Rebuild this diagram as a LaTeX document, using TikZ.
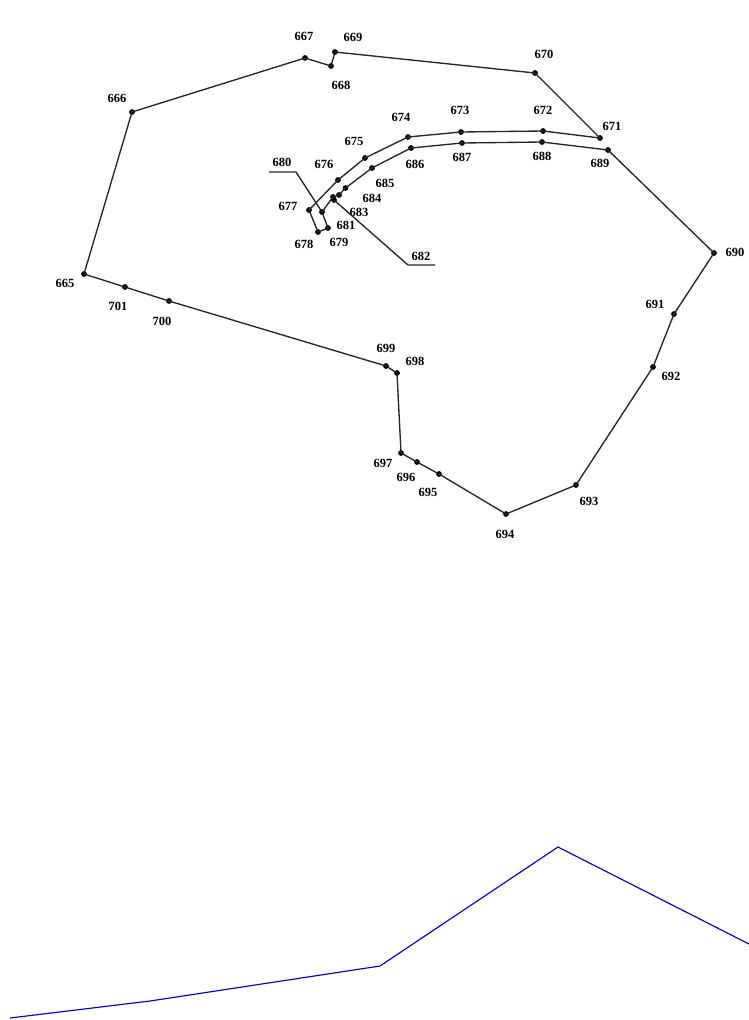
\documentclass[tikz,border=0pt]{standalone}
\usepackage{fontspec}
\setmainfont{Liberation Serif}
\tikzset{
  dotmark/.style={circle,fill=black,draw=none,inner sep=0pt,minimum size=5.8pt},
  numlabel/.style={inner sep=0pt,font=\fontsize{12.5}{14}\selectfont\bfseries,text=black},
  outline/.style={draw=black!85,line width=1.35pt,line join=round},
  bluetrace/.style={draw=blue!85!black,line width=1.15pt,line join=round}
}
\begin{document}
\begin{tikzpicture}[x=1pt,y=-1pt]
\useasboundingbox (0,0) rectangle (749,1020);
\foreach \n/\x/\y/\lx/\ly in {
 665/84/274/65/283, 666/132/112/117/98, 667/305/58/304/36, 668/331/66/341/85,
 669/335/52/353/37, 670/535/73/544/54, 671/600/138/612/126, 672/543/131/543/110,
 673/461/132/460/110, 674/408/137/401/117, 675/365/158/354/141, 676/338/180/324/164,
 677/309/210/288/206, 678/318/232/304/244, 679/328/228/339/242, 681/322/212/346/225,
 682/334/200/421/256, 683/339/195/359/212, 684/345.5/188/372/198, 685/372/168/385/183,
 686/411/148/415/164, 687/462/143/462/157, 688/542/142/542/156, 689/608/150/600/163,
 690/714/253/735/252, 691/674/314/655/304, 692/653/367/671/376, 693/576/485/589/501,
 694/506/514/505/534, 695/439/474/428/492, 696/417/462/406/477, 697/401/453/383/463,
 698/397/373/415/361, 699/386/366/386/348, 700/169/301/162/321, 701/125/287/118/306}{
  \node[dotmark] (p\n) at (\x,\y) {};
  \node[numlabel] (l\n) at (\lx,\ly) {\n};
}
\node[dotmark] (pextra) at (333,197) {};
\node[numlabel] (l680) at (282,162) {680};
\coordinate (a680) at (269,172);
\coordinate (b680) at (296,172);
\coordinate (a682) at (435,265);
\coordinate (b682) at (408,265);
\draw[outline] (p665.center) -- (p666.center) -- (p667.center) -- (p668.center) -- (p669.center)
  -- (p670.center) -- (p671.center) -- (p672.center) -- (p673.center) -- (p674.center)
  -- (p675.center) -- (p676.center) -- (p677.center) -- (p678.center) -- (p679.center)
  -- (p681.center) -- (pextra.center) -- (p683.center) -- (p684.center) -- (p685.center)
  -- (p686.center) -- (p687.center) -- (p688.center) -- (p689.center) -- (p690.center)
  -- (p691.center) -- (p692.center) -- (p693.center) -- (p694.center) -- (p695.center)
  -- (p696.center) -- (p697.center) -- (p698.center) -- (p699.center) -- (p700.center)
  -- (p701.center) -- (p665.center);
\draw[outline] (a680) -- (b680) -- (p681.center);
\draw[outline] (a682) -- (b682) -- (p682.center);
\coordinate (t1) at (10,1018);
\coordinate (t2) at (150,1001);
\coordinate (t3) at (380,966);
\coordinate (t4) at (558,847);
\coordinate (t5) at (749,944);
\draw[bluetrace] (t1) -- (t2) -- (t3) -- (t4) -- (t5);
\end{tikzpicture}
\end{document}
